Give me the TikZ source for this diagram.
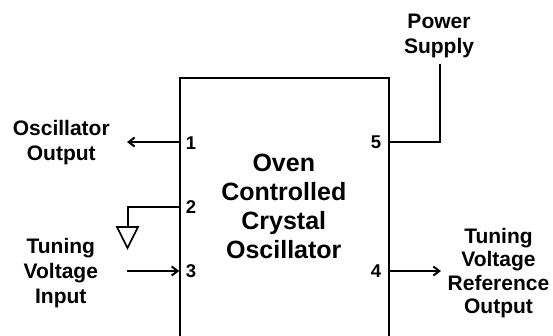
\documentclass[tikz,border=0pt]{standalone}
\usepackage{fontspec}
\setmainfont{Liberation Sans}
\usetikzlibrary{arrows.meta}
\begin{document}
\begin{tikzpicture}[x=1pt,y=-1pt,
  lbl/.style={font=\bfseries\fontsize{21}{25}\selectfont, align=center, inner sep=0},
  pinlbl/.style={font=\bfseries\fontsize{18.5}{20}\selectfont, inner sep=0},
  title/.style={font=\bfseries\fontsize{25}{28.9}\selectfont, align=center, inner sep=0},
  wire/.style={line width=2pt},
  arr/.style={wire, -{Straight Barb[length=6pt,width=9pt]}}]
\useasboundingbox (0,0) rectangle (553,335);
\clip (0,0) rectangle (553,335);
\node[draw, line width=2pt, minimum width=209pt, minimum height=290pt, anchor=north west, inner sep=0] (osc) at (179.3,76.7) {};
\node[title] (t) at (283.8,206.5) {Oven\\Controlled\\Crystal\\Oscillator};
% pin numbers
\node[pinlbl] (n1) at (191,142.7) {1};
\node[pinlbl] (n2) at (191,207) {2};
\node[pinlbl] (n3) at (191,271) {3};
\node[pinlbl] (n5) at (376,142.5) {5};
\node[pinlbl] (n4) at (376,271) {4};
% external labels
\node[lbl] (oscout) at (61.3,142.5) {Oscillator\\Output};
\node[lbl] (tvin) at (60.8,272.9) {Tuning\\Voltage\\Input};
\node[lbl] (pwr) at (439,36.4) {Power\\Supply};
\node[lbl, font=\bfseries\fontsize{21}{23.5}\selectfont] (tvref) at (498.5,273) {Tuning\\Voltage\\Reference\\Output};
% pin coordinates
\coordinate (p1) at (osc.west |- 0,142);
\coordinate (p2) at (osc.west |- 0,207);
\coordinate (p3) at (osc.west |- 0,271);
\coordinate (p5) at (osc.east |- 0,142);
\coordinate (p4) at (osc.east |- 0,271);
\coordinate (o1) at (127,142);
\coordinate (g) at (127.5,227);
\coordinate (i3) at (127,271);
\coordinate (o4) at (441,271);
\coordinate (ps) at (440,64);
% connectors
\draw[arr] (p1) -- (o1);
\draw[wire] (p2) -| (g);
\draw[line width=1.6pt, line join=miter] ([xshift=-10.5pt]g) -- ([xshift=10.5pt]g) -- ([yshift=-21pt]g) -- cycle;
\draw[arr] (i3) -- (p3);
\draw[arr] (p4) -- (o4);
\draw[wire] (p5) -| (ps);
\end{tikzpicture}
\end{document}
